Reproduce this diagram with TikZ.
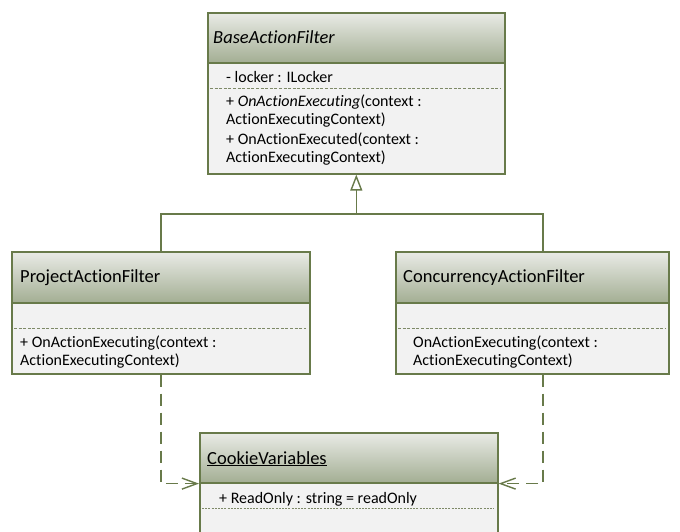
\documentclass[tikz,border=0pt]{standalone}
\usepackage{fontspec}
\setmainfont{Carlito}[Ligatures=NoCommon]
\usetikzlibrary{arrows.meta}
\definecolor{umlborder}{HTML}{687A4A}
\definecolor{hdtop}{HTML}{E9EBE6}
\definecolor{hdbot}{HTML}{A3AE93}
\definecolor{bodyfill}{HTML}{F2F2F2}
\definecolor{sepcol}{HTML}{7E8A68}
\tikzset{
  classbody/.style={draw=umlborder, line width=1.6pt, fill=bodyfill, inner sep=0pt, anchor=north west},
  classhead/.style={draw=umlborder, line width=1.6pt, top color=hdtop, bottom color=hdbot, inner sep=0pt, anchor=north west},
  headtxt/.style={inner sep=0pt, anchor=base west, font=\fontsize{18.5}{22}\selectfont, text=black},
  membtxt/.style={inner sep=0pt, anchor=base west, font=\fontsize{16}{19}\selectfont, text=black},
  sepline/.style={draw=sepcol, line width=0.8pt, dash pattern=on 3pt off 1.6pt},
  gen/.style={draw=umlborder, line width=1.4pt},
  dep/.style={draw=umlborder, line width=1.4pt, dash pattern=on 12pt off 7pt, -{Straight Barb[length=15pt,width=11pt,line width=1.4pt]}}
}
\begin{document}
\begin{tikzpicture}[x=1pt,y=-1pt]
\useasboundingbox[fill=white] (0,0) rectangle (680,531);
% BaseActionFilter
\node[classbody, minimum width=297pt, minimum height=161pt] (base) at (207,12) {};
\node[classhead, minimum width=297pt, minimum height=50pt] (baseh) at (207,12) {};
\node[headtxt] (baset) at (213,43) {\itshape BaseActionFilter};
\node[membtxt] (basem1) at (226,82) {- locker : ILocker};
\coordinate (bs1) at (210,88);
\coordinate (bs2) at (501,88);
\draw[sepline] (bs1) -- (bs2);
\node[membtxt] (basem2) at (226,106.5) {+ \textit{OnActionExecuting}(context :};
\node[membtxt] (basem3) at (226,124.5) {ActionExecutingContext)};
\node[membtxt] (basem4) at (226,144) {+ OnActionExecuted(context :};
\node[membtxt] (basem5) at (226,162) {ActionExecutingContext)};
% ProjectActionFilter
\node[classbody, minimum width=298pt, minimum height=122pt] (proj) at (11,251) {};
\node[classhead, minimum width=298pt, minimum height=51pt] (projh) at (11,251) {};
\node[headtxt] (projt) at (20,282.5) {ProjectActionFilter};
\coordinate (ps1) at (14,328);
\coordinate (ps2) at (306,328);
\draw[sepline] (ps1) -- (ps2);
\node[membtxt] (projm1) at (20,347) {+ OnActionExecuting(context :};
\node[membtxt] (projm2) at (20,365) {ActionExecutingContext)};
% ConcurrencyActionFilter
\node[classbody, minimum width=273pt, minimum height=122pt] (conc) at (395,251) {};
\node[classhead, minimum width=273pt, minimum height=51pt] (conch) at (395,251) {};
\node[headtxt] (conct) at (403,282.5) {ConcurrencyActionFilter};
\coordinate (cs1) at (398,328);
\coordinate (cs2) at (665,328);
\draw[sepline] (cs1) -- (cs2);
\node[membtxt] (concm1) at (413,347) {OnActionExecuting(context :};
\node[membtxt] (concm2) at (413,365) {ActionExecutingContext)};
% CookieVariables
\node[classbody, minimum width=298pt, minimum height=120pt] (cook) at (199,432) {};
\node[classhead, minimum width=298pt, minimum height=50pt] (cookh) at (199,432) {};
\node[headtxt] (cookt) at (207,464) {\underline{CookieVariables}};
\node[membtxt] (cookm1) at (219,503) {+ ReadOnly : string = readOnly};
\coordinate (ks1) at (202,508);
\coordinate (ks2) at (494,508);
\draw[sepline, dash pattern=on 2pt off 1.2pt] (ks1) -- (ks2);
% generalization
\coordinate (cj) at (543,214);
\coordinate (jn) at (base.south |- cj);
\draw[gen] (proj.north) |- (jn) -- (cj) -- (conc.north -| cj);
\draw[gen, -{Triangle[length=16pt,width=12pt,fill=white,line width=1.4pt]}] (jn) -- (base.south);
% dependencies
\draw[dep] (proj.south) |- (cookh.south west);
\draw[dep] (conc.south -| cj) |- (cookh.south east);
\end{tikzpicture}
\end{document}
